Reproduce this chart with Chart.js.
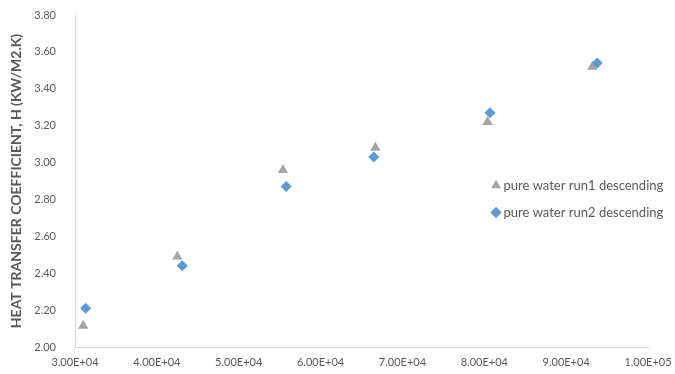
<!DOCTYPE html>
<html>
<head>
<meta charset="utf-8">
<script src="https://cdn.jsdelivr.net/npm/chart.js@4/dist/chart.umd.min.js"></script>
<style>
  html, body { margin: 0; padding: 0; background: #ffffff; }
  #wrap { width: 675px; height: 374px; position: relative; }
</style>
</head>
<body>
<div id="wrap"><canvas id="chart"></canvas></div>
<script>
// Flow parameter (x) and heat transfer coefficient h in kW/m2.K (y)
const run1Label = 'pure water run1 descending';
const run1X = [31000, 42500, 55400, 66700, 80400, 93200];
const run1Y = [2.115, 2.49, 2.96, 3.08, 3.22, 3.52];

const run2Label = 'pure water run2 descending';
const run2X = [31300, 43100, 55800, 66500, 80700, 93800];
const run2Y = [2.21, 2.44, 2.87, 3.03, 3.27, 3.54];

const yTitle = 'HEAT TRANSFER COEFFICIENT, H (KW/M2.K)';
const xMin = 30000, xMax = 100000, xStep = 10000;
const yMin = 2.0, yMax = 3.8, yStep = 0.2;

const textColor = '#595959';
const axisColor = '#d9d9d9';
const fontFamily = 'Lato, "Open Sans", "Liberation Sans", sans-serif';

function toPoints(xs, ys) {
  return xs.map((x, i) => ({ x: x, y: ys[i] }));
}

// Excel-style scientific label, e.g. 3.00E+04
function sciLabel(v) {
  if (v === 0) return '0.00E+00';
  const exp = Math.floor(Math.log10(Math.abs(v)));
  const mant = v / Math.pow(10, exp);
  const sign = exp < 0 ? '-' : '+';
  const e = String(Math.abs(exp)).padStart(2, '0');
  return mant.toFixed(2) + 'E' + sign + e;
}

// Places the legend inside the plot area, right of centre
const legendPlacement = {
  id: 'legendPlacement',
  afterLayout(chart) {
    const lg = chart.legend;
    const ca = chart.chartArea;
    const w = lg.width, h = lg.height;
    lg.left = ca.left + (ca.right - ca.left) * 0.7086;
    lg.top = ca.top + (ca.bottom - ca.top) * 0.4518;
    lg.right = lg.left + w;
    lg.bottom = lg.top + h;
  }
};

new Chart(document.getElementById('chart'), {
  type: 'scatter',
  data: {
    datasets: [
      {
        label: run1Label,
        data: toPoints(run1X, run1Y),
        pointStyle: 'triangle',
        pointRadius: 6,
        pointHoverRadius: 6,
        backgroundColor: '#a5a5a5',
        borderColor: '#a5a5a5',
        borderWidth: 0,
        order: 2
      },
      {
        label: run2Label,
        data: toPoints(run2X, run2Y),
        pointStyle: 'rectRot',
        pointRadius: 5.5,
        pointHoverRadius: 5.5,
        backgroundColor: '#5b9bd5',
        borderColor: '#5b9bd5',
        borderWidth: 0,
        order: 1
      }
    ]
  },
  options: {
    responsive: true,
    maintainAspectRatio: false,
    animation: false,
    layout: { padding: { left: 4, right: 27, top: 15, bottom: 0 } },
    plugins: {
      tooltip: { enabled: false },
      legend: {
        position: 'chartArea',
        align: 'start',
        labels: {
          usePointStyle: true,
          boxWidth: 2,
          boxHeight: 8,
          padding: 14,
          color: textColor,
          font: { family: fontFamily, size: 13 },
          sort: (a, b) => a.datasetIndex - b.datasetIndex
        }
      }
    },
    scales: {
      x: {
        type: 'linear',
        min: xMin,
        max: xMax,
        grid: { display: false, drawTicks: false },
        border: { display: true, color: axisColor, width: 1 },
        ticks: {
          stepSize: xStep,
          padding: 9,
          color: textColor,
          font: { family: fontFamily, size: 11 },
          maxRotation: 0,
          callback: (v) => sciLabel(v)
        },
        afterFit(scale) {
          scale.height = 27;
          scale.paddingLeft = 0;
          scale.paddingRight = 0;
        }
      },
      y: {
        type: 'linear',
        min: yMin,
        max: yMax,
        grid: { display: false, drawTicks: false },
        border: { display: true, color: axisColor, width: 1 },
        ticks: {
          stepSize: yStep,
          padding: 19,
          color: textColor,
          font: { family: fontFamily, size: 11 },
          callback: (v) => v.toFixed(2)
        },
        title: {
          display: true,
          text: yTitle,
          color: textColor,
          font: { family: fontFamily, size: 14, weight: 'bold' },
          padding: { top: 4, bottom: 4 }
        },
        afterFit(scale) {
          scale.width = 71;
          scale.paddingTop = 0;
          scale.paddingBottom = 0;
        }
      }
    }
  },
  plugins: [legendPlacement]
});
</script>
</body>
</html>
